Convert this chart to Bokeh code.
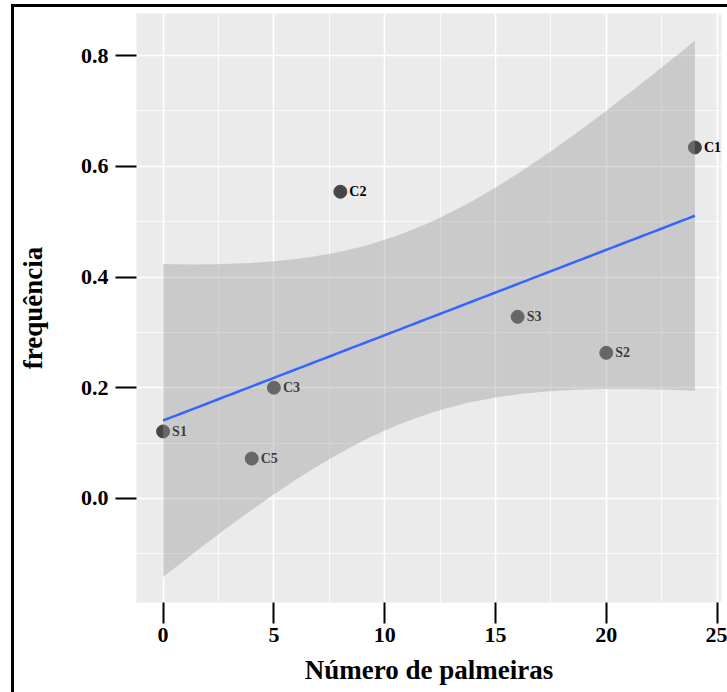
import numpy as np
from bokeh.plotting import figure
from bokeh.models import ColumnDataSource, FixedTicker, Range1d
from bokeh.core.properties import value
from bokeh.embed import file_html
from bokeh.resources import INLINE

# data
sites = ["S1", "C5", "C3", "C2", "S3", "S2", "C1"]
palmeiras = [0, 4, 5, 8, 16, 20, 24]
frequencia = [0.121, 0.072, 0.200, 0.554, 0.328, 0.263, 0.634]
x_ticks = [0, 5, 10, 15, 20, 25]
y_ticks = [0.0, 0.2, 0.4, 0.6, 0.8]

# linear fit with 95% confidence band (as geom_smooth(method="lm"))
xa = np.array(palmeiras, dtype=float)
ya = np.array(frequencia, dtype=float)
n = len(xa)
xm, ym = xa.mean(), ya.mean()
sxx = ((xa - xm) ** 2).sum()
b1 = ((xa - xm) * (ya - ym)).sum() / sxx
b0 = ym - b1 * xm
resid = ya - (b0 + b1 * xa)
s = np.sqrt((resid ** 2).sum() / (n - 2))
t975 = 2.570582  # t quantile, df = 5
xg = np.linspace(xa.min(), xa.max(), 80)
fit = b0 + b1 * xg
se = s * np.sqrt(1.0 / n + (xg - xm) ** 2 / sxx)
lo = fit - t975 * se
hi = fit + t975 * se

serif = "Liberation Serif"

p = figure(frame_width=585, frame_height=589, output_backend="svg", toolbar_location=None,
           x_range=Range1d(-1.2, 25.2), y_range=Range1d(-0.188, 0.876),
           min_border_left=122, min_border_right=6, min_border_top=6, min_border_bottom=90)
p.styles = {"border-left": "3px solid black", "border-top": "3px solid black",
            "margin-left": "11px", "margin-top": "4px"}
p.background_fill_color = "#EBEBEB"
p.border_fill_color = "white"
p.outline_line_color = None

p.xaxis.ticker = FixedTicker(ticks=x_ticks, minor_ticks=[-2.5, 2.5, 7.5, 12.5, 17.5, 22.5])
p.yaxis.ticker = FixedTicker(ticks=y_ticks, minor_ticks=[-0.1, 0.1, 0.3, 0.5, 0.7])
for g in (p.xgrid, p.ygrid):
    g.grid_line_color = "white"
    g.grid_line_width = 1.6
    g.minor_grid_line_color = "white"
    g.minor_grid_line_width = 0.8

for ax in (p.xaxis, p.yaxis):
    ax.axis_line_color = None
    ax.minor_tick_line_color = None
    ax.major_tick_line_color = "black"
    ax.major_tick_line_width = 2
    ax.major_tick_in = 0
    ax.major_tick_out = 21
    ax.major_label_text_font = serif
    ax.major_label_text_font_style = "bold"
    ax.major_label_text_font_size = "22px"
    ax.major_label_text_color = "black"
    ax.axis_label_text_font = serif
    ax.axis_label_text_font_style = "bold"
    ax.axis_label_text_font_size = "27px"
    ax.axis_label_text_color = "black"

p.xaxis.major_label_standoff = 4
p.yaxis.major_label_standoff = 7
p.xaxis.axis_label = "Número de palmeiras"
p.yaxis.axis_label = "frequência"
p.xaxis.axis_label_standoff = 10
p.yaxis.axis_label_standoff = 30
p.yaxis.major_label_overrides = {0.0: "0.0", 0.2: "0.2", 0.4: "0.4", 0.6: "0.6", 0.8: "0.8"}

src = ColumnDataSource(dict(x=palmeiras, y=frequencia, lab=sites))
p.scatter("x", "y", source=src, size=13, fill_color="#464646", line_color="#464646")
p.text("x", "y", text="lab", source=src, x_offset=9, text_baseline="middle",
       text_align="left", text_font=value(serif), text_font_style="bold",
       text_font_size="14px", text_color="black")

band = ColumnDataSource(dict(x=xg, lo=lo, hi=hi, fit=fit))
p.varea("x", "lo", "hi", source=band, fill_color="#999999", fill_alpha=0.4)
p.line("x", "fit", source=band, line_color="#3366FF", line_width=2.5)

open("out.html", "w").write(file_html(p, INLINE))
